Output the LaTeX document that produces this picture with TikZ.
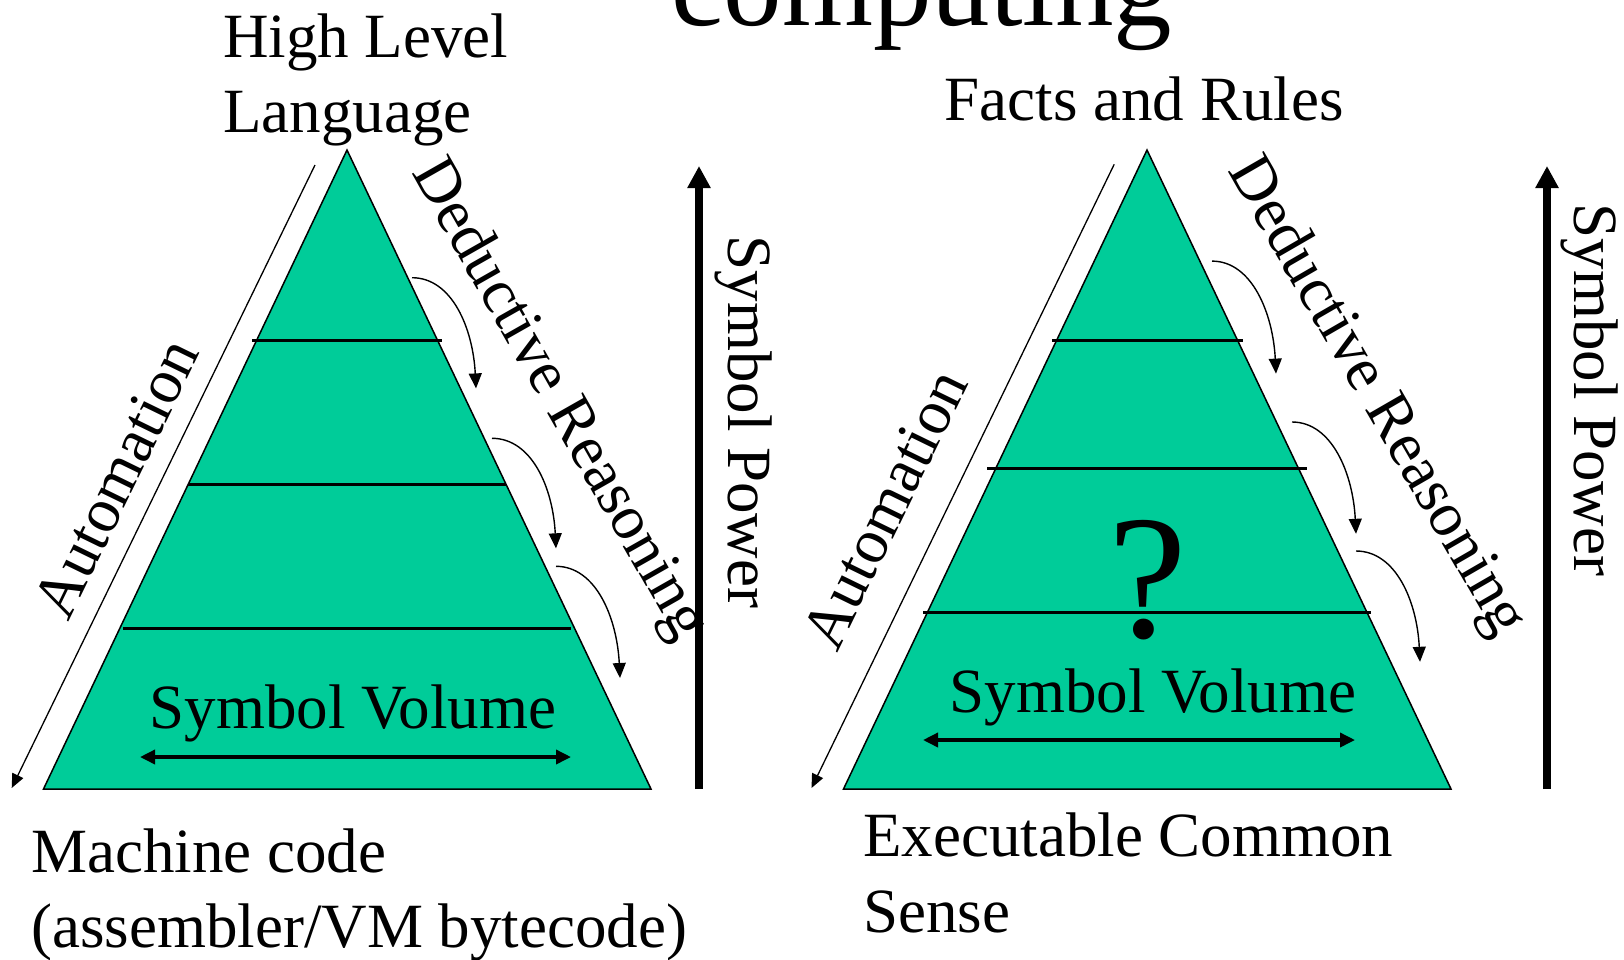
\documentclass[tikz,border=0pt]{standalone}
\usepackage{fontspec}
\setmainfont{Liberation Serif}
\usetikzlibrary{arrows.meta,calc}
\definecolor{pyrgreen}{RGB}{0,204,153}
\begin{document}
\begin{tikzpicture}[x=1pt,y=-1pt,
  lbl/.style={inner sep=0pt, font=\fontsize{63}{75}\selectfont},
  pyramid/.style={fill=pyrgreen, draw=black, line width=1.5pt, line join=miter},
  tier/.style={line width=3pt},
  autoarrow/.style={line width=1.3pt, -{Triangle[length=14pt,width=12pt]}},
  dedarrow/.style={line width=1.4pt, -{Triangle[length=15pt,width=13pt]}},
  powerarrow/.style={line width=8pt, -{Triangle[length=22pt,width=22pt]}},
  volarrow/.style={line width=3.5pt, {Triangle[length=15pt,width=14pt]}-{Triangle[length=15pt,width=14pt]}},
]
\path[use as bounding box] (0,0) rectangle (1624,959);
\clip (0,0) rectangle (1624,959);

% ---------- left pyramid: programming languages ----------
\coordinate (lTop) at (347,150);
\coordinate (lBL) at (43.5,789);
\coordinate (lBR) at (651,789);
\draw[pyramid] (lTop) -- (lBL) -- (lBR) -- cycle;
\coordinate (l1a) at (252,340);   \coordinate (l1b) at (442,340);
\coordinate (l2a) at (187.5,484); \coordinate (l2b) at (506,484);
\coordinate (l3a) at (123,628);   \coordinate (l3b) at (571,628);
\draw[tier] (l1a) -- (l1b);
\draw[tier] (l2a) -- (l2b);
\draw[tier] (l3a) -- (l3b);

% automation arrow along the left side
\coordinate (lAutoS) at (315,165);
\coordinate (lAutoE) at (11.7,788);
\draw[autoarrow] (lAutoS) -- (lAutoE);

% deductive steps along the right side
\coordinate (lD1s) at (412,277.7); \coordinate (lD1e) at (476,388.4);
\coordinate (lD2s) at (492,438.3); \coordinate (lD2e) at (556,548.3);
\coordinate (lD3s) at (556,566.3); \coordinate (lD3e) at (620,678);
\foreach \s/\e in {lD1s/lD1e, lD2s/lD2e, lD3s/lD3e}
  \draw[dedarrow] (\s) .. controls ($(\s)+(40,0)$) and ($(\e)+(-3,-60)$) .. (\e);

% symbol power arrow
\coordinate (lPowS) at (699,789);
\coordinate (lPowE) at (699,166);
\draw[powerarrow] (lPowS) -- (lPowE);

% symbol volume arrow
\coordinate (lVolA) at (140,757);
\coordinate (lVolB) at (571,757);
\draw[volarrow] (lVolA) -- (lVolB);

% ---------- right pyramid: knowledge ----------
\coordinate (rTop) at (1147,150);
\coordinate (rBL) at (843.5,789);
\coordinate (rBR) at (1451,789);
\draw[pyramid] (rTop) -- (rBL) -- (rBR) -- cycle;
\coordinate (r1a) at (1052,340);  \coordinate (r1b) at (1242.5,340);
\coordinate (r2a) at (987,468.3); \coordinate (r2b) at (1307,468.3);
\coordinate (r3a) at (923,612.3); \coordinate (r3b) at (1370.5,612.3);
\draw[tier] (r1a) -- (r1b);
\draw[tier] (r2a) -- (r2b);
\draw[tier] (r3a) -- (r3b);

\coordinate (rAutoS) at (1114.2,164.3);
\coordinate (rAutoE) at (811.5,788);
\draw[autoarrow] (rAutoS) -- (rAutoE);

\coordinate (rD1s) at (1212,261.1); \coordinate (rD1e) at (1276,373.6);
\coordinate (rD2s) at (1292,422);   \coordinate (rD2e) at (1356,533.8);
\coordinate (rD3s) at (1356,551);   \coordinate (rD3e) at (1420,661.8);
\foreach \s/\e in {rD1s/rD1e, rD2s/rD2e, rD3s/rD3e}
  \draw[dedarrow] (\s) .. controls ($(\s)+(40,0)$) and ($(\e)+(-3,-60)$) .. (\e);

\coordinate (rPowS) at (1547,789);
\coordinate (rPowE) at (1547,166);
\draw[powerarrow] (rPowS) -- (rPowE);

\coordinate (rVolA) at (923,740);
\coordinate (rVolB) at (1355,740);
\draw[volarrow] (rVolA) -- (rVolB);

% ---------- labels ----------
\node[inner sep=0pt, anchor=base, font=\fontsize{117}{117}\selectfont] (title) at (922,25) {computing};

\node[lbl, anchor=base west] (hll1) at (223,57) {High Level};
\node[lbl, anchor=base west] (hll2) at (223,132) {Language};
\node[lbl, anchor=base west] (mc1) at (31,872) {Machine code};
\node[lbl, anchor=base west] (mc2) at (31,947) {(assembler/VM bytecode)};

\node[lbl, anchor=base] (facts) at (1144,120) {Facts and Rules};
\node[lbl, anchor=base west] (ecs1) at (863,856) {Executable Common};
\node[lbl, anchor=base west] (ecs2) at (863,932) {Sense};

\node[lbl, anchor=base] (svolL) at (353,728) {Symbol Volume};
\node[lbl, anchor=base] (svolR) at (1153,712) {Symbol Volume};
\node[inner sep=0pt, anchor=base, font=\fontsize{177}{177}\selectfont] (unknown) at (1148,637) {?};

\node[lbl, anchor=base, rotate=64] (autoL) at (134.6,487.5) {Automation};
\node[lbl, anchor=base, rotate=64] (autoR) at (903,518) {Automation};
\node[lbl, anchor=base, rotate=-60.4] (dedL) at (544.6,407.7) {Deductive Reasoning};
\node[lbl, anchor=base, rotate=-60] (dedR) at (1362.5,405) {Deductive Reasoning};
\node[lbl, anchor=base, rotate=-90] (spowL) at (728,422) {Symbol Power};
\node[lbl, anchor=base, rotate=-90] (spowR) at (1574,390) {Symbol Power};
\end{tikzpicture}
\end{document}
